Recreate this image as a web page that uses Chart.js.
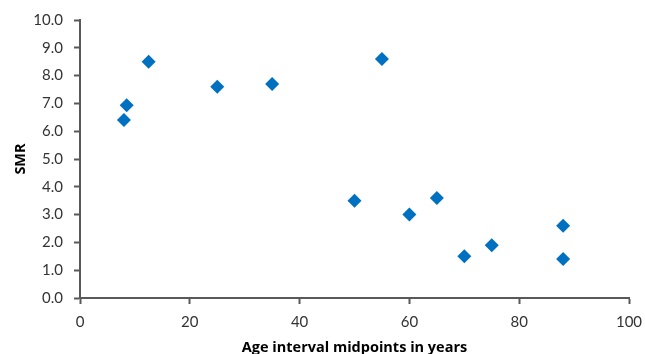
<!DOCTYPE html>
<html>
<head>
<meta charset="utf-8">
<script src="https://cdn.jsdelivr.net/npm/chart.js@4/dist/chart.umd.min.js"></script>
<style>
    html, body { margin: 0; padding: 0; background: #fff; }
    #wrap { width: 645px; height: 354px; }
</style>
</head>
<body>
<div id="wrap"><canvas id="smrChart"></canvas></div>
<script>
// Age interval midpoints (years) and SMR values
const ageMidpoints = [8, 8.5, 12.5, 25, 35, 50, 55, 60, 65, 70, 75, 88, 88];
const smrValues = [6.4, 6.93, 8.5, 7.6, 7.7, 3.5, 8.6, 3.0, 3.6, 1.5, 1.9, 2.6, 1.4];

const xTicks = [0, 20, 40, 60, 80, 100];
const yTickStep = 1;

const axisColor = '#595959';
const labelFont = { family: 'Lato', size: 15 };
const titleFont = { family: 'Open Sans', size: 14.5, weight: 'bold' };

const points = ageMidpoints.map((x, i) => ({ x: x, y: smrValues[i] }));

new Chart(document.getElementById('smrChart'), {
    type: 'scatter',
    data: {
        datasets: [{
            label: 'SMR',
            data: points,
            pointStyle: 'rectRot',
            pointRadius: 7,
            pointHoverRadius: 7,
            backgroundColor: '#0070C0',
            borderColor: '#0070C0',
            borderWidth: 0
        }]
    },
    options: {
        responsive: true,
        maintainAspectRatio: false,
        animation: false,
        layout: { padding: { top: 20, right: 16, left: 0, bottom: 0 } },
        plugins: {
            legend: { display: false },
            tooltip: { enabled: false }
        },
        scales: {
            x: {
                type: 'linear',
                min: 0,
                max: 100,
                afterBuildTicks: scale => {
                    scale.ticks = xTicks.map(v => ({ value: v }));
                },
                afterFit: scale => {
                    scale.height = 56;
                    // let the "100" label run into the right margin like the original
                    scale.paddingRight = 0;
                    scale.paddingLeft = 0;
                },
                border: { color: axisColor, width: 2 },
                grid: { drawOnChartArea: false, tickLength: 6, tickColor: axisColor, tickWidth: 2 },
                ticks: { color: '#333', font: labelFont, padding: 9, maxRotation: 0 },
                title: {
                    display: true,
                    text: 'Age interval midpoints in years',
                    color: '#000',
                    font: titleFont,
                    padding: { top: 4, bottom: -3 }
                }
            },
            y: {
                min: 0,
                max: 10,
                ticks: {
                    stepSize: yTickStep,
                    color: '#333',
                    font: labelFont,
                    padding: 11,
                    callback: v => v.toFixed(1)
                },
                afterFit: scale => { scale.width = 80; },
                border: { color: axisColor, width: 2 },
                grid: { drawOnChartArea: false, tickLength: 6, tickColor: axisColor, tickWidth: 2 },
                title: {
                    display: true,
                    text: 'SMR',
                    color: '#000',
                    font: titleFont,
                    padding: { top: 12, bottom: 4 }
                }
            }
        }
    }
});
</script>
</body>
</html>
